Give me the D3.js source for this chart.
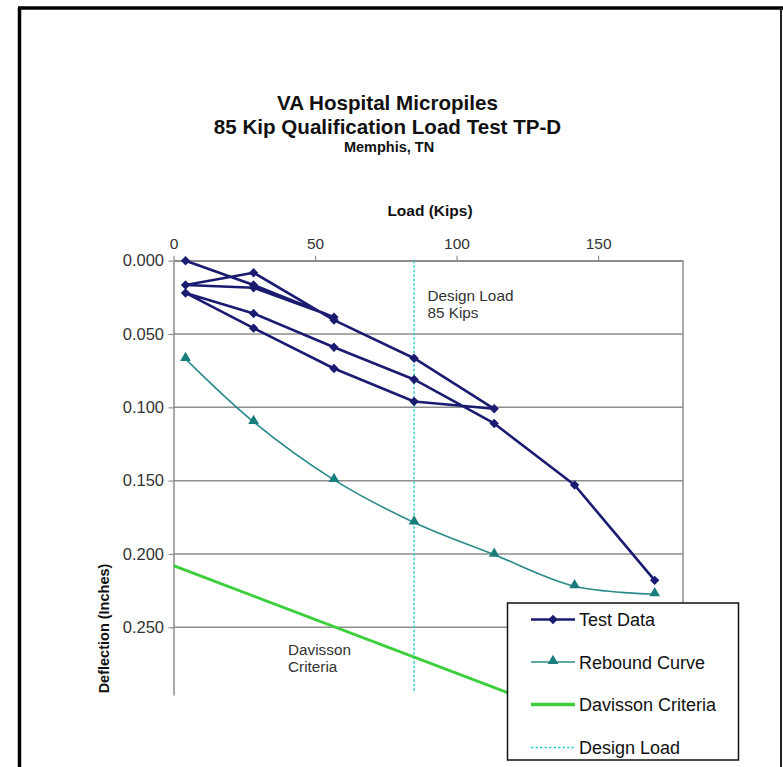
<!DOCTYPE html>
<html>
<head>
<meta charset="utf-8">
<script src="https://cdn.jsdelivr.net/npm/d3@7"></script>
<style>
  html, body { margin: 0; padding: 0; background: #fff; }
  svg { display: block; font-family: "Liberation Sans", Arial, Helvetica, sans-serif; }
</style>
</head>
<body>
<svg id="chart" width="783" height="767"></svg>
<script>
// ---------- data ----------
const titleLines = ["VA Hospital Micropiles", "85 Kip Qualification Load Test TP-D", "Memphis, TN"];
const xTicks = [0, 50, 100, 150];
const yTicks = [0, 0.05, 0.10, 0.15, 0.20, 0.25];

// Test Data (load in kips, deflection in inches), in test order
const testLoad = [4.25, 28.3, 56.7, 28.3, 4.25, 28.3, 56.7, 85, 113.3, 85, 56.7, 28.3, 4.25, 28.3, 56.7, 85, 113.3, 141.7, 170];
const testDefl = [0.000, 0.0166, 0.0385, 0.0185, 0.0166, 0.0082, 0.0405, 0.0665, 0.101, 0.096, 0.0735, 0.046, 0.022, 0.036, 0.059, 0.081, 0.111, 0.153, 0.218];

// Rebound Curve
const reboundLoad = [4.25, 28.3, 56.7, 85, 113.3, 141.7, 170];
const reboundDefl = [0.067, 0.110, 0.1495, 0.1785, 0.2005, 0.222, 0.2275];

// Davisson Criteria
const davLoad = [0, 180];
const davDefl = [0.208, 0.340];

// Design Load
const designLoad = 85;

const legendLabels = ["Test Data", "Rebound Curve", "Davisson Criteria", "Design Load"];

// ---------- colors ----------
const cTest = "#1b1b72", cReb = "#2a8a8a", cRebMk = "#1a7d7d", cDav = "#3ccf3c", cDes = "#33cccc";

const svg = d3.select("#chart");

// outer frame
svg.append("line").attr("x1", 19.5).attr("y1", 8).attr("x2", 19.5).attr("y2", 770).attr("stroke", "#000").attr("stroke-width", 3.5);
svg.append("line").attr("x1", 18).attr("y1", 8).attr("x2", 783).attr("y2", 8).attr("stroke", "#000").attr("stroke-width", 3.5);
svg.append("line").attr("x1", 781).attr("y1", 8).attr("x2", 781).attr("y2", 770).attr("stroke", "#222").attr("stroke-width", 2);

// scales
const x = d3.scaleLinear().domain([0, 180]).range([173.5, 683]);
const y = d3.scaleLinear().domain([0, 0.2962]).range([260.7, 695]);

// title
const tt = svg.append("g").attr("text-anchor", "middle").attr("fill", "#111").attr("font-weight", "bold");
tt.append("text").attr("x", 387.5).attr("y", 110).attr("font-size", 20.6).text(titleLines[0]);
tt.append("text").attr("x", 387.5).attr("y", 134).attr("font-size", 20.6).text(titleLines[1]);
tt.append("text").attr("x", 389).attr("y", 151.5).attr("font-size", 14.5).text(titleLines[2]);

// axis titles
svg.append("text").attr("x", 430).attr("y", 215.5).attr("text-anchor", "middle")
  .attr("font-size", 15.5).attr("font-weight", "bold").attr("fill", "#111").text("Load (Kips)");
svg.append("text").attr("transform", "translate(108.5,628.5) rotate(-90)").attr("text-anchor", "middle")
  .attr("font-size", 14.5).attr("font-weight", "bold").attr("fill", "#111").text("Deflection (Inches)");

// gridlines
svg.append("g").selectAll("line").data(yTicks).join("line")
  .attr("x1", x(0)).attr("x2", x(180)).attr("y1", d => y(d)).attr("y2", d => y(d))
  .attr("stroke", "#8c8c8c").attr("stroke-width", 1.5);
// right border of plot area
svg.append("line").attr("x1", x(180)).attr("x2", x(180)).attr("y1", y(0)).attr("y2", y.range()[1])
  .attr("stroke", "#8c8c8c").attr("stroke-width", 1.5);

// x axis (top)
const xAxis = svg.append("g").attr("transform", `translate(0,${y(0)})`)
  .call(d3.axisTop(x).tickValues(xTicks).tickSize(5).tickSizeOuter(0).tickFormat(d3.format("d")));
xAxis.select(".domain").attr("stroke", "#8c8c8c").attr("stroke-width", 1.5);
xAxis.selectAll(".tick line").attr("stroke", "#8c8c8c").attr("stroke-width", 1.2);
xAxis.selectAll(".tick text").attr("font-size", 15.5).attr("fill", "#333").attr("font-family", "Liberation Sans, Arial, sans-serif").attr("y", -12).attr("dy", 0);

// y axis (left)
const yAxis = svg.append("g").attr("transform", `translate(${x(0)},0)`)
  .call(d3.axisLeft(y).tickValues(yTicks).tickSize(5).tickSizeOuter(0).tickFormat(d3.format(".3f")));
yAxis.select(".domain").attr("stroke", "#8c8c8c").attr("stroke-width", 1.5);
yAxis.selectAll(".tick line").attr("stroke", "#8c8c8c").attr("stroke-width", 1.2);
yAxis.selectAll(".tick text").attr("font-size", 16.5).attr("fill", "#333").attr("font-family", "Liberation Sans, Arial, sans-serif").attr("x", -9.5);

// clip
svg.append("clipPath").attr("id", "plotclip").append("rect")
  .attr("x", x(0)).attr("y", y(0)).attr("width", x(180) - x(0)).attr("height", y.range()[1] - y(0));
const plot = svg.append("g").attr("clip-path", "url(#plotclip)");

// annotations
const ann = svg.append("g").attr("font-size", 15.3).attr("fill", "#333");
ann.append("text").attr("x", 427.5).attr("y", 300.5).text("Design Load");
ann.append("text").attr("x", 427.5).attr("y", 317.5).text("85 Kips");
ann.append("text").attr("x", 288).attr("y", 655).text("Davisson");
ann.append("text").attr("x", 288).attr("y", 671.5).text("Criteria");

// design load line
plot.append("line").attr("x1", x(designLoad)).attr("x2", x(designLoad)).attr("y1", y(0)).attr("y2", 693)
  .attr("stroke", cDes).attr("stroke-width", 1.5).attr("stroke-dasharray", "2.5,2");

// davisson
const davData = davLoad.map((d, i) => [d, davDefl[i]]);
plot.append("path").datum(davData)
  .attr("d", d3.line().x(d => x(d[0])).y(d => y(d[1])))
  .attr("fill", "none").attr("stroke", cDav).attr("stroke-width", 3);

// rebound
const rebData = reboundLoad.map((d, i) => [d, reboundDefl[i]]);
plot.append("path").datum(rebData)
  .attr("d", d3.line().curve(d3.curveCatmullRom.alpha(0.5)).x(d => x(d[0])).y(d => y(d[1])))
  .attr("fill", "none").attr("stroke", cReb).attr("stroke-width", 1.6);
const tri = d3.symbol().type(d3.symbolTriangle).size(50);
svg.append("g").selectAll("path").data(rebData).join("path")
  .attr("transform", d => `translate(${x(d[0])},${y(d[1]) - 1})`)
  .attr("d", tri).attr("fill", cRebMk);

// test data
const testData = testLoad.map((d, i) => [d, testDefl[i]]);
plot.append("path").datum(testData)
  .attr("d", d3.line().x(d => x(d[0])).y(d => y(d[1])))
  .attr("fill", "none").attr("stroke", cTest).attr("stroke-width", 2.6).attr("stroke-linejoin", "round");
const dia = d3.symbol().type(d3.symbolSquare).size(44);
svg.append("g").selectAll("path").data(testData).join("path")
  .attr("transform", d => `translate(${x(d[0])},${y(d[1])}) rotate(45)`)
  .attr("d", dia).attr("fill", cTest);

// legend
const lg = svg.append("g");
lg.append("rect").attr("x", 507.5).attr("y", 603).attr("width", 231).attr("height", 157)
  .attr("fill", "#fff").attr("stroke", "#111").attr("stroke-width", 1.5);
const ly = [619.5, 662, 704.5, 747.5];
const lx1 = 531, lx2 = 575;
// test data
lg.append("line").attr("x1", lx1).attr("x2", lx2).attr("y1", ly[0]).attr("y2", ly[0]).attr("stroke", cTest).attr("stroke-width", 2.6);
lg.append("path").attr("transform", `translate(${(lx1 + lx2) / 2},${ly[0]}) rotate(45)`).attr("d", dia).attr("fill", cTest);
// rebound
lg.append("line").attr("x1", lx1).attr("x2", lx2).attr("y1", ly[1]).attr("y2", ly[1]).attr("stroke", cReb).attr("stroke-width", 1.6);
lg.append("path").attr("transform", `translate(${(lx1 + lx2) / 2},${ly[1] - 1})`).attr("d", tri).attr("fill", cRebMk);
// davisson
lg.append("line").attr("x1", lx1).attr("x2", lx2).attr("y1", ly[2]).attr("y2", ly[2]).attr("stroke", cDav).attr("stroke-width", 3.5);
// design
lg.append("line").attr("x1", lx1).attr("x2", lx2).attr("y1", ly[3]).attr("y2", ly[3]).attr("stroke", cDes).attr("stroke-width", 1.5).attr("stroke-dasharray", "2.5,2");
lg.selectAll("text.lbl").data(legendLabels).join("text").attr("class", "lbl")
  .attr("x", 579).attr("y", (d, i) => ly[i] + 6.5).attr("font-size", 18).attr("fill", "#111").text(d => d);
</script>
</body>
</html>
